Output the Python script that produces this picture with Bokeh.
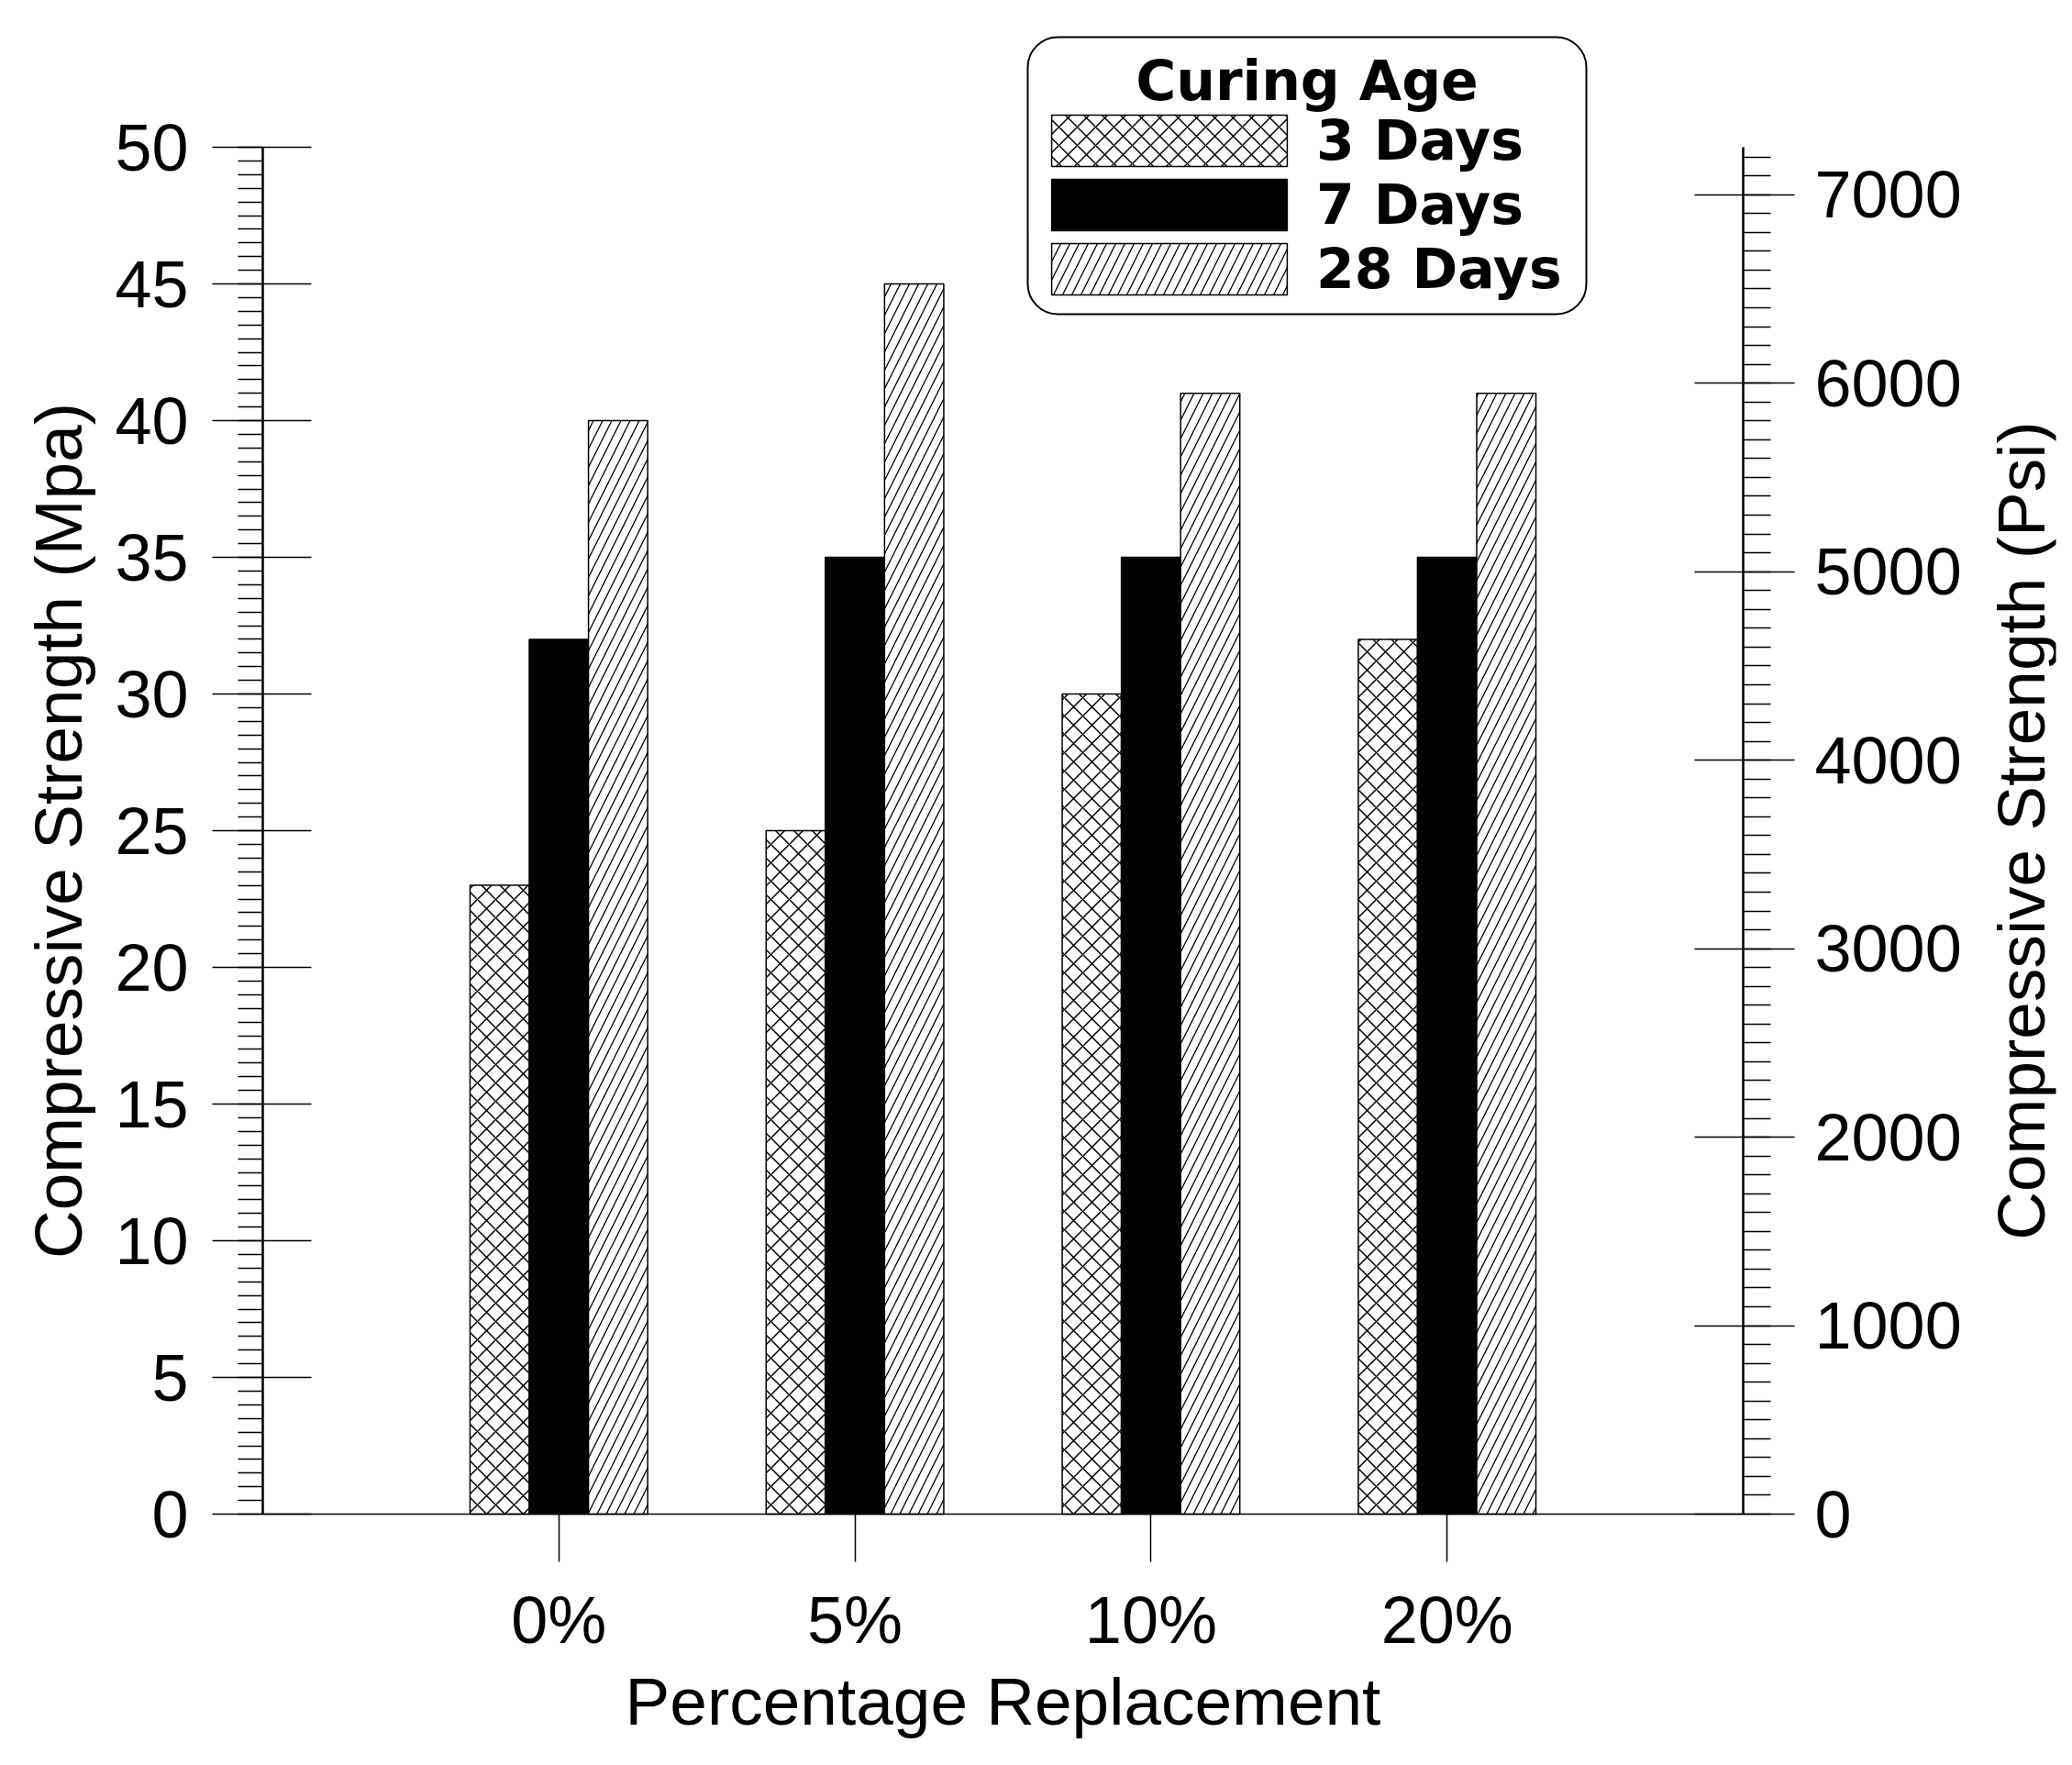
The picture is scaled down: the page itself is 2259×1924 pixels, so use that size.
import math
from bokeh.plotting import figure
from bokeh.models import (Range1d, LinearAxis, FixedTicker, Legend, LegendItem,
                          BoxAnnotation, Label, ColumnDataSource)
from bokeh.transform import dodge
from bokeh.embed import file_html
from bokeh.resources import INLINE

# ---- data ----
categories = ["0%", "5%", "10%", "20%"]
days3 = [23, 25, 30, 32]
days7 = [32, 35, 35, 35]
days28 = [40, 45, 41, 41]
series_names = ["3 Days", "7 Days", "28 Days"]

mpa_ticks = [0, 5, 10, 15, 20, 25, 30, 35, 40, 45, 50]
psi_ticks = [0, 1000, 2000, 3000, 4000, 5000, 6000, 7000]
MPA_TO_PSI = 145.038
Y_MAX = 50

mpa_minor = [i * 0.5 for i in range(0, 101)]
psi_minor = [i * 100 for i in range(0, 73)]
xpos = [i + 1 for i in range(len(categories))]
X_AXIS_END = len(categories) + 1

AXIS_FONT = "Liberation Sans"
LEG_FONT = "DejaVu Sans"

# ---- layout (pixels in the picture) ----
AX_L, AX_R, AX_T, AX_B = 286, 1900, 160, 1650     # where the 0..5 and 0..50 axes lie
FR_L, FR_R, FR_T, FR_B = 10, 2241, 30, 1905       # the plot frame
FIG_W, FIG_H = 2243, 1908
px_x = (AX_R - AX_L) / X_AXIS_END
px_y = (AX_B - AX_T) / Y_MAX
x_start = -(AX_L - FR_L) / px_x
x_end = X_AXIS_END + (FR_R - AX_R) / px_x
y_start = -(FR_B - AX_B) / px_y
y_end = Y_MAX + (AX_T - FR_T) / px_y

def sx(px):  # picture x -> screen units in the frame
    return px - FR_L

def sy(py):  # picture y -> screen units in the frame (from bottom)
    return FR_B - py

p = figure(x_range=Range1d(x_start, x_end), y_range=Range1d(y_start, y_end),
           frame_width=FR_R - FR_L, frame_height=FR_B - FR_T,
           min_border_left=FR_L, min_border_right=FIG_W - FR_R,
           min_border_top=FR_T, min_border_bottom=FIG_H - FR_B,
           output_backend="svg", toolbar_location=None,
           background_fill_color="white", border_fill_color="white")
p.outline_line_color = None
p.xgrid.visible = False
p.ygrid.visible = False

src = ColumnDataSource(dict(x=xpos, d3=days3, d7=days7, d28=days28))

r3 = p.vbar(x=dodge("x", -0.2), top="d3", bottom=0, width=0.2, source=src,
            fill_color="white", line_color="black", line_width=1.5,
            hatch_pattern="x", hatch_scale=20, hatch_weight=1.5, hatch_color="black")
r7 = p.vbar(x=dodge("x", 0.0), top="d7", bottom=0, width=0.2, source=src,
            fill_color="black", line_color="black", line_width=1.5)
r28 = p.vbar(x=dodge("x", 0.2), top="d28", bottom=0, width=0.2, source=src,
             fill_color="white", line_color="black", line_width=1.5,
             hatch_pattern="/", hatch_scale=20, hatch_weight=1.3, hatch_color="black")

def style_axis(ax):
    ax.axis_line_color = "black"
    ax.major_tick_line_color = "black"
    ax.minor_tick_line_color = "black"
    ax.major_label_text_color = "black"
    ax.axis_label_text_color = "black"
    ax.major_label_text_font = AXIS_FONT
    ax.major_label_text_font_size = "72px"
    ax.axis_label_text_font = AXIS_FONT
    ax.axis_label_text_font_size = "73px"
    ax.axis_label_text_font_style = "normal"
    ax.major_tick_line_width = 1.5
    ax.minor_tick_line_width = 1.5

# ---- left axis (MPa), drawn at x = 0 ----
ya = p.yaxis[0]
style_axis(ya)
ya.fixed_location = 0
ya.ticker = FixedTicker(ticks=mpa_ticks, minor_ticks=mpa_minor)
ya.bounds = (0, Y_MAX)
ya.major_tick_in = 53
ya.major_tick_out = 55
ya.minor_tick_in = 0
ya.minor_tick_out = 27
ya.axis_line_width = 2.5
ya.major_label_standoff = 26
ya.axis_label = "Compressive Strength (Mpa)"
ya.axis_label_standoff = 18

# ---- right axis (psi), drawn at the right end of the category axis ----
p.extra_y_ranges = {"psi": Range1d(y_start * MPA_TO_PSI, y_end * MPA_TO_PSI)}
ra = LinearAxis(y_range_name="psi", fixed_location=X_AXIS_END,
                ticker=FixedTicker(ticks=psi_ticks, minor_ticks=psi_minor))
style_axis(ra)
ra.bounds = (0, Y_MAX * MPA_TO_PSI)
ra.major_tick_in = 53
ra.major_tick_out = 56
ra.minor_tick_in = 0
ra.minor_tick_out = 30
ra.axis_line_width = 2.5
ra.major_label_standoff = 22
p.add_layout(ra, "right")

# ---- bottom axis, drawn at y = 0 ----
xa = p.xaxis[0]
style_axis(xa)
xa.fixed_location = 0
xa.ticker = FixedTicker(ticks=xpos)
xa.bounds = (0, X_AXIS_END)
xa.major_label_overrides = {x: c for x, c in zip(xpos, categories)}
xa.major_tick_in = 0
xa.major_tick_out = 52
xa.minor_tick_in = 0
xa.minor_tick_out = 0
xa.axis_line_width = 1.5
xa.major_label_standoff = 23
xa.axis_label = "Percentage Replacement"
xa.axis_label_standoff = 5

# right axis title (reads bottom to top)
p.add_layout(Label(x=sx(2203), y=sy((AX_T + AX_B) / 2), x_units="screen", y_units="screen",
                   text="Compressive Strength (Psi)", angle=math.pi / 2,
                   text_align="center", text_baseline="alphabetic",
                   text_font=AXIS_FONT, text_font_size="73px", text_color="black"))

# ---- legend ----
p.add_layout(BoxAnnotation(left=sx(1120), right=sx(1729), bottom=sy(342), top=sy(40),
                           left_units="screen", right_units="screen",
                           top_units="screen", bottom_units="screen",
                           fill_color="white", fill_alpha=1.0,
                           line_color="black", line_width=2, line_alpha=1.0,
                           border_radius=33))
p.add_layout(Label(x=sx(1424.5), y=sy(87), x_units="screen", y_units="screen",
                   text="Curing Age", text_align="center", text_baseline="alphabetic",
                   text_font=LEG_FONT, text_font_style="bold", text_font_size="60px",
                   text_color="black"))
legend = Legend(items=[LegendItem(label=series_names[0], renderers=[r3]),
                       LegendItem(label=series_names[1], renderers=[r7]),
                       LegendItem(label=series_names[2], renderers=[r28])],
                location=(sx(1114), sy(328)), orientation="vertical",
                glyph_width=321, glyph_height=70, label_standoff=0,
                spacing=0, padding=0, margin=0,
                label_text_font=LEG_FONT, label_text_font_style="bold",
                label_text_font_size="60px", label_text_color="black",
                border_line_color=None, background_fill_alpha=0.0)
p.add_layout(legend)

open("out.html", "w").write(file_html(p, INLINE))
